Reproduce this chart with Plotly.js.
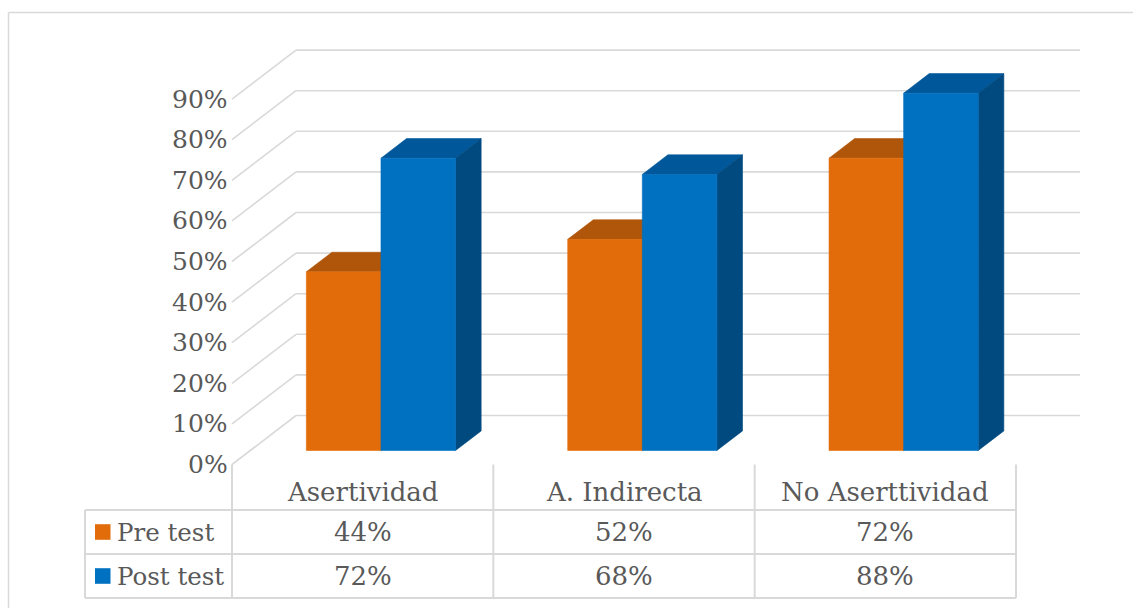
<!DOCTYPE html>
<html>
<head>
<meta charset="utf-8">
<script src="https://cdn.plot.ly/plotly-3.0.1.min.js"></script>
<style>html,body{margin:0;padding:0;background:#fff;}#chart{width:1133px;height:608px;}</style>
</head>
<body>
<div id="chart"></div>
<script>
// ---- data ----
const categories = ['Asertividad', 'A. Indirecta', 'No Aserttividad'];
const seriesNames = ['Pre test', 'Post test'];
const preTest = [44, 52, 72];
const postTest = [72, 68, 88];
const yTickValues = [0, 10, 20, 30, 40, 50, 60, 70, 80, 90];
const yTickLabels = ['0%', '10%', '20%', '30%', '40%', '50%', '60%', '70%', '80%', '90%'];

// ---- styling / geometry ----
const W = 1133, H = 608;
const PXX = 784 / 3;          // px per category unit
const PXY = 4.06;             // px per percent
const LEFT_PX = 232;          // front-left wall edge
const ZERO_PX = 464.5;        // 0% on the front plane
const xRange = [-0.5 - LEFT_PX / PXX, -0.5 + (W - LEFT_PX) / PXX];
const yRange = [(ZERO_PX - H) / PXY, ZERO_PX / PXY];
const DX = 64 / PXX, DY = 49 / PXY;   // full depth offset
const D0 = 0.286, DT = 0.40;           // bar depth start / thickness
const BAR_W = 74.6 / PXX;
const px2x = p => -0.5 + (p - LEFT_PX) / PXX;
const px2y = p => (ZERO_PX - p) / PXY;

const FONT = 'DejaVu Serif';
const TXT = '#595959';
const GRID = '#D9D9D9';
const faceColors = [
  {front: '#E36C0A', top: '#B0560A', side: '#A04D08'},
  {front: '#0070C0', top: '#00589B', side: '#004A80'}
];
const seriesValues = [preTest, postTest];

// ---- build 3D bar faces from data ----
const traces = [];
seriesValues.forEach((vals, s) => {
  const top = {x: [], y: []}, side = {x: [], y: []}, front = {x: [], y: []};
  vals.forEach((v, i) => {
    const xl = i - BAR_W + s * BAR_W, xr = xl + BAR_W;
    const s0x = D0 * DX, s0y = D0 * DY, s1x = (D0 + DT) * DX, s1y = (D0 + DT) * DY;
    top.x.push(xl + s0x, xr + s0x, xr + s1x, xl + s1x, xl + s0x, null);
    top.y.push(v + s0y, v + s0y, v + s1y, v + s1y, v + s0y, null);
    side.x.push(xr + s0x, xr + s0x, xr + s1x, xr + s1x, xr + s0x, null);
    side.y.push(s0y, v + s0y, v + s1y, s1y, s0y, null);
    front.x.push(xl + s0x, xr + s0x, xr + s0x, xl + s0x, xl + s0x, null);
    front.y.push(s0y, s0y, v + s0y, v + s0y, s0y, null);
  });
  [['top', top], ['side', side], ['front', front]].forEach(([k, d]) => {
    traces.push({
      type: 'scatter', mode: 'lines', x: d.x, y: d.y, fill: 'toself',
      fillcolor: faceColors[s][k], line: {width: 0.6, color: faceColors[s][k]},
      hoverinfo: 'skip', showlegend: false, name: seriesNames[s]
    });
  });
});

// ---- gridlines (side wall + back wall) ----
const shapes = [];
yTickValues.forEach(v => {
  shapes.push({type: 'line', xref: 'x', yref: 'y', layer: 'below',
    x0: -0.5, y0: v, x1: -0.5 + DX, y1: v + DY, line: {color: GRID, width: 1.6}});
  shapes.push({type: 'line', xref: 'x', yref: 'y', layer: 'below',
    x0: -0.5 + DX, y0: v + DY, x1: 2.5 + DX, y1: v + DY, line: {color: GRID, width: 1.6}});
});

// ---- data table lines ----
const tblTop = 0, row1 = px2y(510), row2 = px2y(554), tblBot = px2y(598);
const hdrLeft = px2x(85);
[-0.5, 0.5, 1.5, 2.5].forEach(x => {
  shapes.push({type: 'line', xref: 'x', yref: 'y', x0: x, x1: x, y0: tblTop, y1: tblBot,
    line: {color: GRID, width: 2}});
});
shapes.push({type: 'line', xref: 'x', yref: 'y', x0: hdrLeft, x1: hdrLeft, y0: row1, y1: tblBot, line: {color: GRID, width: 2}});
[row1, row2, tblBot].forEach(y => {
  shapes.push({type: 'line', xref: 'x', yref: 'y', x0: hdrLeft, x1: 2.5, y0: y, y1: y, line: {color: GRID, width: 2}});
});
// legend keys
[row1, row2].forEach((y, s) => {
  const yc = (y + (s === 0 ? row2 : tblBot)) / 2;
  shapes.push({type: 'rect', xref: 'x', yref: 'y', x0: px2x(95), x1: px2x(110.5),
    y0: yc - 7.8 / PXY, y1: yc + 7.8 / PXY, fillcolor: faceColors[s].front, line: {width: 0}});
});
// outer chart border (left + top)
shapes.push({type: 'line', xref: 'paper', yref: 'paper', x0: 8.5 / W, x1: 8.5 / W, y0: 0, y1: 1 - 12.5 / H, line: {color: GRID, width: 1.5}});
shapes.push({type: 'line', xref: 'paper', yref: 'paper', x0: 8.5 / W, x1: 1, y0: 1 - 12.5 / H, y1: 1 - 12.5 / H, line: {color: GRID, width: 1.5}});

// ---- text ----
const annotations = [];
const tf = {family: FONT, size: 26, color: TXT};
const tfAxis = {family: FONT, size: 25, color: TXT};
const tfLeg = {family: FONT, size: 24.5, color: TXT};
yTickValues.forEach((v, k) => {
  annotations.push({x: px2x(230), y: v, xref: 'x', yref: 'y', text: yTickLabels[k],
    xanchor: 'right', yanchor: 'middle', showarrow: false, font: tfAxis});
});
const catY = px2y(492);
categories.forEach((c, i) => {
  annotations.push({x: i, y: catY, xref: 'x', yref: 'y', text: c, xanchor: 'center', yanchor: 'middle', showarrow: false, font: tf});
});
const rowYs = [(row1 + row2) / 2, (row2 + tblBot) / 2];
seriesValues.forEach((vals, s) => {
  annotations.push({x: px2x(115), y: rowYs[s], xref: 'x', yref: 'y', text: seriesNames[s],
    xanchor: 'left', yanchor: 'middle', showarrow: false, font: tfLeg});
  vals.forEach((v, i) => {
    annotations.push({x: i, y: rowYs[s], xref: 'x', yref: 'y', text: v + '%',
      xanchor: 'center', yanchor: 'middle', showarrow: false, font: tf});
  });
});

const layout = {
  width: W, height: H,
  margin: {l: 0, r: 0, t: 0, b: 0, pad: 0},
  paper_bgcolor: '#fff', plot_bgcolor: '#fff',
  showlegend: false,
  font: {family: FONT, color: TXT},
  xaxis: {range: xRange, visible: false, fixedrange: true},
  yaxis: {range: yRange, visible: false, fixedrange: true},
  shapes: shapes, annotations: annotations
};
Plotly.newPlot('chart', traces, layout, {displayModeBar: false, staticPlot: true});
</script>
</body>
</html>
